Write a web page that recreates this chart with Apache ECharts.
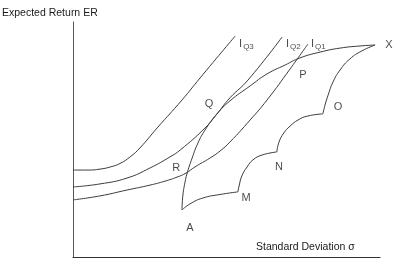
<!DOCTYPE html>
<html>
<head>
<meta charset="utf-8">
<script src="https://cdn.jsdelivr.net/npm/echarts@6/dist/echarts.min.js"></script>
<style>html,body{margin:0;padding:0;background:#fff}#c{width:396px;height:265px}</style>
</head>
<body>
<div id="c"></div>
<script>
// σ (x) and ER (y) on 0–100 scales
const iq3X = [0, 4.9, 8.8, 12.1, 15.3, 18.6, 21.8, 27.4, 35.5, 41.4, 52.8];
const iq3Y = [37.0, 37.0, 37.4, 38.3, 39.8, 42.6, 46.4, 54.9, 66.8, 76.2, 94.0];

const iq2X = [0, 8.8, 17.6, 25.1, 31.6, 34.9, 43.0, 46.9, 51.1, 57.0, 68.1];
const iq2Y = [29.8, 31.1, 33.6, 37.9, 42.6, 45.5, 54.9, 60.9, 67.7, 75.3, 93.6];

const iq1X = [0, 8.8, 17.6, 25.1, 30.0, 33.9, 36.8, 39.7, 44.6, 47.9, 51.1, 57.7, 63.2, 70.7, 76.5];
const iq1Y = [24.3, 26.0, 28.5, 30.6, 32.3, 34.0, 35.7, 38.3, 42.1, 45.1, 48.9, 58.3, 66.8, 80.0, 90.6];

const frontierX = [35.5, 35.8, 36.5, 37.1, 38.8, 40.7, 43.0, 46.9, 51.1, 57.7, 63.2, 69.1, 73.9, 80.5, 87.0, 93.5, 98.4];
const frontierY = [20.0, 26.4, 31.9, 35.3, 42.1, 48.5, 54.0, 60.9, 66.4, 72.8, 77.9, 81.7, 84.7, 87.2, 88.9, 89.8, 90.2];

const arcAMX = [35.5, 38.1, 42.3, 47.9, 53.7];
const arcAMY = [20.0, 22.6, 25.1, 26.6, 27.7];
const arcMNX = [53.7, 54.1, 55.0, 56.7, 58.6, 61.6, 66.4];
const arcMNY = [27.7, 30.2, 34.5, 38.3, 41.3, 43.4, 44.7];
const arcNOX = [66.4, 67.1, 68.7, 70.7, 73.3, 76.5, 81.4];
const arcNOY = [44.7, 48.9, 52.8, 55.7, 58.3, 60.0, 60.9];
const arcOXX = [81.4, 82.1, 83.1, 84.7, 87.0, 90.2, 94.1, 98.4];
const arcOXY = [60.9, 64.7, 68.9, 74.5, 79.6, 84.3, 87.7, 90.2];

const pointNames = ['A', 'M', 'N', 'O', 'X', 'P', 'Q', 'R'];
const pointX = [38.1, 56.4, 67.1, 86.3, 102.9, 74.9, 44.3, 33.6];
const pointY = [12.3, 25.1, 38.3, 63.8, 90.2, 77.4, 65.1, 37.9];

const curveNames = ['Q3', 'Q2', 'Q1'];
const curveLabelX = [54.1, 69.4, 77.5];
const curveLabelY = [90.6, 90.6, 90.6];

const yTitle = 'Expected Return ER';
const xTitle = 'Standard Deviation σ';

const zip = (xs, ys) => xs.map((x, i) => [x, ys[i]]);
const lineColor = '#3c3c3c';
const lineSeries = (xs, ys) => ({
  type: 'line', data: zip(xs, ys), smooth: 0.5, symbol: 'none',
  lineStyle: { color: lineColor, width: 1 }, silent: true, z: 2
});
const font = 'Liberation Sans';

const chart = echarts.init(document.getElementById('c'), null, { renderer: 'canvas' });
chart.setOption({
  animation: false,
  backgroundColor: '#fff',
  title: [
    { text: yTitle, left: -3, top: 3, textStyle: { fontFamily: font, fontSize: 10.5, fontWeight: 'normal', color: '#1a1a1a' } },
    { text: xTitle, left: 251, top: 237, textStyle: { fontFamily: font, fontSize: 10.5, fontWeight: 'normal', color: '#1a1a1a' } }
  ],
  grid: { left: 73, right: 16, top: 22, bottom: 8, containLabel: false },
  xAxis: {
    type: 'value', min: 0, max: 100,
    axisLine: { show: true, lineStyle: { color: '#333', width: 1.2 } },
    axisTick: { show: false }, axisLabel: { show: false }, splitLine: { show: false }
  },
  yAxis: {
    type: 'value', min: 0, max: 100,
    axisLine: { show: true, lineStyle: { color: '#555', width: 1 } },
    axisTick: { show: false }, axisLabel: { show: false }, splitLine: { show: false }
  },
  series: [
    lineSeries(iq3X, iq3Y),
    lineSeries(iq2X, iq2Y),
    lineSeries(iq1X, iq1Y),
    lineSeries(frontierX, frontierY),
    lineSeries(arcAMX, arcAMY),
    lineSeries(arcMNX, arcMNY),
    lineSeries(arcNOX, arcNOY),
    lineSeries(arcOXX, arcOXY),
    {
      type: 'scatter', clip: false, symbolSize: 1, itemStyle: { color: 'rgba(0,0,0,0)' },
      data: pointNames.map((n, i) => ({ name: n, value: [pointX[i], pointY[i]] })),
      label: { show: true, position: 'inside', formatter: p => p.name, fontFamily: font, fontSize: 11, color: '#1a1a1a' },
      silent: true, z: 5
    },
    {
      type: 'scatter', clip: false, symbolSize: 1, itemStyle: { color: 'rgba(0,0,0,0)' },
      data: curveNames.map((n, i) => ({ name: n, value: [curveLabelX[i], curveLabelY[i]] })),
      label: {
        show: true, position: 'inside', align: 'left', verticalAlign: 'middle',
        formatter: p => '{i|I}{s|' + p.name + '}',
        rich: {
          i: { fontFamily: font, fontSize: 11, color: '#1a1a1a' },
          s: { fontFamily: font, fontSize: 8, color: '#1a1a1a', padding: [5, 0, 0, 1] }
        }
      },
      silent: true, z: 5
    }
  ]
});
</script>
</body>
</html>
